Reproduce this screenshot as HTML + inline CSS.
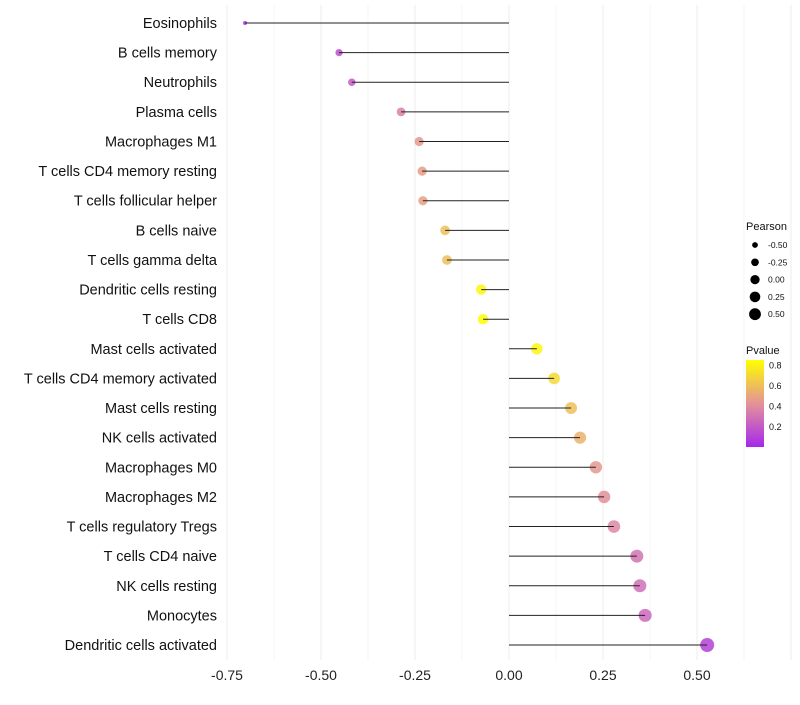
<!DOCTYPE html>
<html><head><meta charset="utf-8"><style>
body{margin:0;background:#fff;font-family:"Liberation Sans",sans-serif}
</style></head><body>
<svg id="c" width="800" height="700" xmlns="http://www.w3.org/2000/svg">
<g id="grid"></g><g id="points"></g><g id="marks"></g><g id="labels"></g><g id="legend"></g>
</svg>
<script>
const categories=["Eosinophils","B cells memory","Neutrophils","Plasma cells","Macrophages M1","T cells CD4 memory resting","T cells follicular helper","B cells naive","T cells gamma delta","Dendritic cells resting","T cells CD8","Mast cells activated","T cells CD4 memory activated","Mast cells resting","NK cells activated","Macrophages M0","Macrophages M2","T cells regulatory  Tregs ","T cells CD4 naive","NK cells resting","Monocytes","Dendritic cells activated"];
const pearson=[-0.702,-0.452,-0.418,-0.287,-0.239,-0.231,-0.229,-0.170,-0.165,-0.074,-0.069,0.074,0.120,0.165,0.189,0.231,0.253,0.279,0.340,0.348,0.362,0.527];
const pvalue=[0.02,0.15,0.2,0.35,0.45,0.47,0.48,0.6,0.6,0.82,0.84,0.82,0.7,0.6,0.55,0.45,0.42,0.38,0.3,0.28,0.25,0.1];
const xTicks=[-0.75,-0.5,-0.25,0,0.25,0.5];
const xTickLabels=["-0.75","-0.50","-0.25","0.00","0.25","0.50"];
const sizeLegend=[-0.5,-0.25,0,0.25,0.5];
const sizeLegendLabels=["-0.50","-0.25","0.00","0.25","0.50"];
const pLegend=[0.2,0.4,0.6,0.8];
const NS="http://www.w3.org/2000/svg";
const x=v=>509+376*v;
const y=i=>23+i*(645-23)/21;
const r=v=>Math.sqrt(Math.max(2,29.7+36.6*v));
const py=p=>447-(p/0.85)*87;
function col(p){const s=[[0,[165,40,235]],[0.4,[225,140,160]],[0.85,[255,255,0]]];
 p=Math.max(0,Math.min(0.85,p));for(let k=0;k<2;k++){const [a,ca]=s[k],[b,cb]=s[k+1];if(p<=b){const t=(p-a)/(b-a);return `rgb(${ca.map((c,j)=>Math.round(c+(cb[j]-c)*t)).join(",")})`;}}return "rgb(255,255,0)";}
function mk(t,attrs,parent,txt){const e=document.createElementNS(NS,t);for(const k in attrs)e.setAttribute(k,attrs[k]);if(txt!=null)e.textContent=txt;document.getElementById(parent).appendChild(e);return e;}
for(let v=-0.75;v<=0.76;v+=0.125){const e=mk("line",{x1:x(v),x2:x(v),y1:5,y2:660,stroke:"#ededed","stroke-width":Math.abs((v*4)%1)<1e-6?1:0.6},"grid");

}
xTicks.forEach((v,i)=>{const t=mk("text",{x:x(v),y:680,"text-anchor":"middle","font-size":14,fill:"#222"},"labels",xTickLabels[i]);

});
categories.forEach((c,i)=>{
 const t=mk("text",{x:217,y:y(i)+5,"text-anchor":"end","font-size":14.5,fill:"#111"},"labels",c);
 
 
 const d=mk("circle",{cx:x(pearson[i]),cy:y(i),r:r(pearson[i]),fill:col(pvalue[i]),"fill-opacity":0.85},"points");
 
 
 const l=mk("line",{x1:x(0),x2:x(pearson[i]),y1:y(i),y2:y(i),stroke:"#222","stroke-width":1},"marks");
 
 
});
const lt=mk("text",{x:746,y:230,"font-size":11,fill:"#111"},"legend","Pearson");


sizeLegend.forEach((v,i)=>{const yy=245+i*17.3;
 const c=mk("circle",{cx:755,cy:yy,r:r(v)*0.85,fill:"#000"},"legend");
 
 
 const t=mk("text",{x:768,y:yy+3,"font-size":8.5,fill:"#111"},"legend",sizeLegendLabels[i]);
 
 });
const pt=mk("text",{x:746,y:354,"font-size":11,fill:"#111"},"legend","Pvalue");


const defs=mk("defs",{},"legend");
const g=document.createElementNS(NS,"linearGradient");g.setAttribute("id","pg");g.setAttribute("x1",0);g.setAttribute("y1",1);g.setAttribute("x2",0);g.setAttribute("y2",0);
[[0,0],[0.4/0.85,0.4],[1,0.85]].forEach(([o,p])=>{const s=document.createElementNS(NS,"stop");s.setAttribute("offset",o);s.setAttribute("stop-color",col(p));g.appendChild(s);});
defs.appendChild(g);
const bar=mk("rect",{x:746,y:360,width:18,height:87,fill:"url(#pg)"},"legend");


pLegend.forEach(p=>{const t=mk("text",{x:769,y:py(p)+3.5,"font-size":9,fill:"#111"},"legend",p.toFixed(1));
 
 });
</script>
</body></html>
